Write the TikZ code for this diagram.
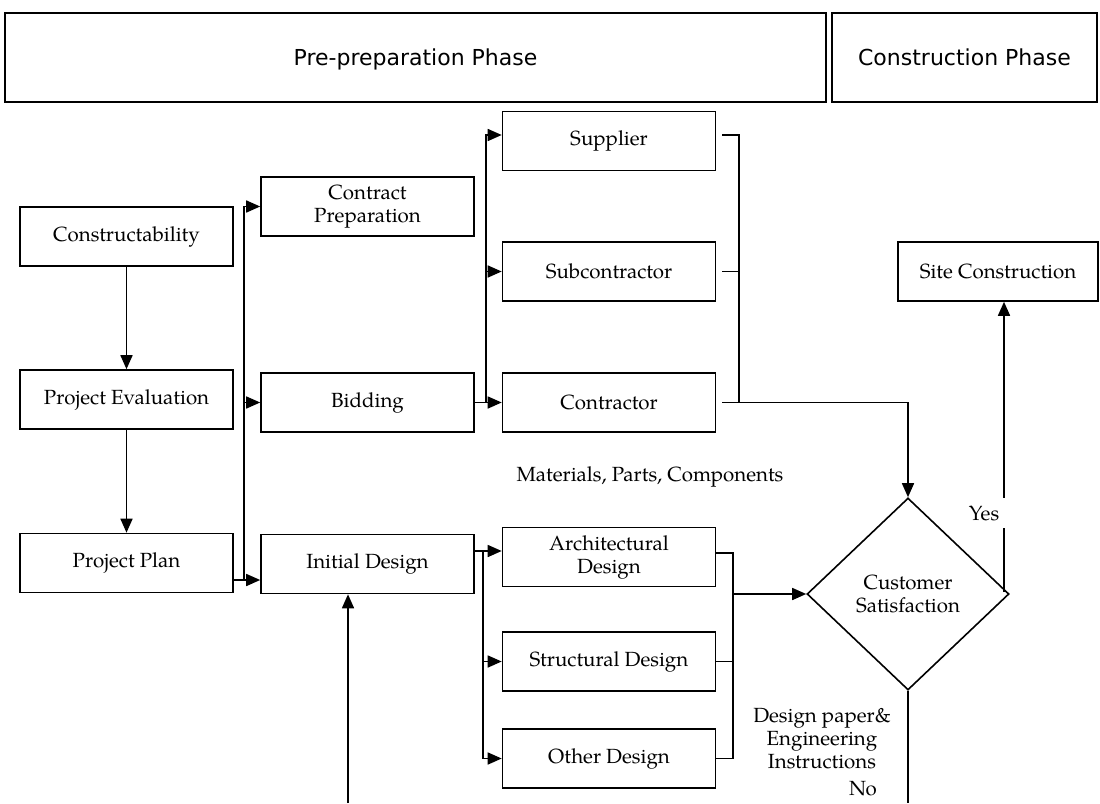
\documentclass[tikz,border=0pt]{standalone}
\usepackage{fontspec}
\setmainfont{TeX Gyre Pagella}
\newfontfamily\headfont{DejaVu Sans}
\usepackage{tikz}
\usetikzlibrary{positioning, arrows.meta, shapes.geometric}

\begin{document}
\begin{tikzpicture}[
    x=1pt, y=-1pt,
    >={Triangle[length=14pt,width=12pt]},
    line width=1.6pt,
    every node/.style={font=\fontsize{20.5}{23}\selectfont},
    stage/.style={draw, minimum width=213pt, minimum height=59pt, inner sep=2pt, align=center},
    phase/.style={draw, minimum height=89pt, text height=16pt, text depth=0pt, font=\headfont\fontsize{22}{26}\selectfont},
    decision/.style={draw, diamond, aspect=1, minimum width=202pt, minimum height=192pt, inner sep=0pt, align=center},
    gap/.style={shorten <=6pt}
]
    \useasboundingbox (0,0) rectangle (1100,803);

    % Define nodes
    \node[phase, minimum width=821pt] (pre) at (415.5,57.5) {Pre-preparation Phase};
    \node[phase, minimum width=265pt] (build) at (964.5,57.5) {Construction Phase};

    \node[stage] (constr) at (126.5,236.5) {Constructability};
    \node[stage] (eval) at (126.5,399.5) {Project Evaluation};
    \node[stage] (plan) at (126.5,563) {Project Plan};

    \node[stage] (contract) at (367.5,206.5) {Contract\\Preparation};
    \node[stage] (bidding) at (367.5,402.5) {Bidding};
    \node[stage] (initial) at (367.5,564) {Initial Design};

    \node[stage] (supplier) at (609,141) {Supplier};
    \node[stage] (subcon) at (609,271.5) {Subcontractor};
    \node[stage] (contractor) at (609,402.5) {Contractor};
    \node[stage] (arch) at (609,557) {Architectural\\Design};
    \node[stage] (struct) at (609,661.5) {Structural Design};
    \node[stage] (other) at (609,758.5) {Other Design};

    \node[stage, minimum width=200pt] (site) at (998,271.5) {Site Construction};
    \node[decision] (satisfy) at (908,594) {Customer\\Satisfaction};

    \node (materials) at (650,477) {Materials, Parts, Components};
    \node[align=center] (papers) at (822,739) {Design paper\&\\Engineering\\Instructions};
    \node (no) at (863,789) {No};

    % Junction points
    \coordinate (planbus) at (244,580);
    \coordinate (bidbus) at (486,402.5);
    \coordinate (designbus) at (483,551);
    \coordinate (supbus) at (739,402.5);
    \coordinate (archbus) at (733,594);
    \coordinate (yesturn) at (1004,592);
    \coordinate (loopout) at (908,803);
    \coordinate (loopin) at (348,803);

    % Draw arrows
    \draw[->] (constr) -- (eval);
    \draw[->] (eval) -- (plan);
    \draw (plan.east |- planbus) -- (planbus);
    \draw[->] (planbus) -- (planbus -| initial.west);
    \draw[->] (planbus) |- (contract.west);
    \draw[->] (planbus |- bidding) -- (bidding.west);

    \draw (bidding.east) -- (bidbus);
    \draw[->] (bidbus) -- (contractor.west);
    \draw[->] (bidbus) |- ([yshift=6pt]supplier.west);
    \draw[->] (bidbus |- subcon) -- (subcon.west);

    \draw[gap] ([yshift=6pt]supplier.east) -| (supbus);
    \draw[gap] (subcon.east) -- (subcon.east -| supbus);
    \draw[gap, ->] (contractor.east) -| (satisfy.north);

    \draw (initial.east |- designbus) -- (designbus);
    \draw[->] (designbus) -- (designbus -| arch.west);
    \draw[->] (designbus) |- (struct.west);
    \draw[->] (designbus) |- (other.west);

    \draw ([yshift=4pt]arch.east) -| (archbus |- other.east) -- (other.east);
    \draw (struct.east) -- (struct.east -| archbus);
    \draw[->] (archbus) -- (satisfy.west);

    \draw[->] (yesturn) -- (yesturn |- site.south);
    \node[fill=white, minimum width=46pt, minimum height=30pt, inner sep=0pt] (yes) at (984,513) {Yes};

    \draw (satisfy.south) -- (loopout);
    \draw[->] (loopin) -- (loopin |- initial.south);
\end{tikzpicture}
\end{document}
